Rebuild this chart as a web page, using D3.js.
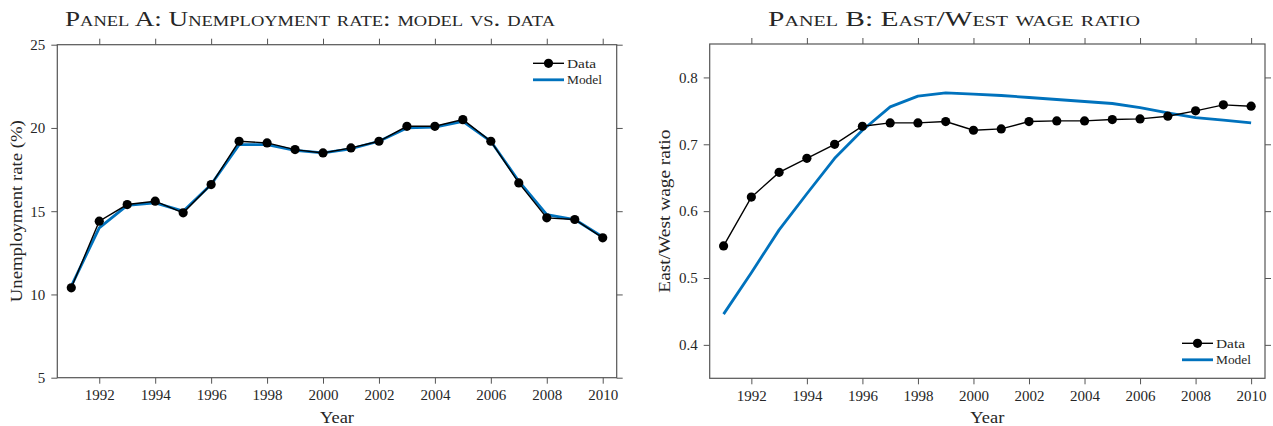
<!DOCTYPE html>
<html>
<head>
<meta charset="utf-8">
<script src="https://cdn.jsdelivr.net/npm/d3@7"></script>
<style>
body { margin: 0; background: #fff; }
svg text { font-family: "Liberation Serif", "DejaVu Serif", serif; fill: #262626; }
</style>
</head>
<body>
<svg id="chart" width="1273" height="426"></svg>
<script>
// years on the x axis (both panels)
var years = [1991, 1992, 1993, 1994, 1995, 1996, 1997, 1998, 1999, 2000,
             2001, 2002, 2003, 2004, 2005, 2006, 2007, 2008, 2009, 2010];
var yearTicks = [1992, 1994, 1996, 1998, 2000, 2002, 2004, 2006, 2008, 2010];

// Panel A: unemployment rate (%)
var unempData  = [10.4, 14.4, 15.4, 15.6, 14.9, 16.6, 19.2, 19.1, 18.7, 18.5,
                  18.8, 19.2, 20.1, 20.1, 20.5, 19.2, 16.7, 14.6, 14.5, 13.4];
var unempModel = [10.5, 14.0, 15.35, 15.5, 15.0, 16.6, 19.0, 19.0, 18.65, 18.5,
                  18.75, 19.2, 20.0, 20.05, 20.4, 19.2, 16.8, 14.8, 14.5, 13.45];
var unempTicks = [5, 10, 15, 20, 25];

// Panel B: East/West wage ratio
var wageData  = [0.548, 0.621, 0.658, 0.679, 0.700, 0.727, 0.732, 0.732, 0.734, 0.721,
                 0.723, 0.734, 0.735, 0.735, 0.737, 0.738, 0.742, 0.750, 0.759, 0.757];
var wageModel = [0.446, 0.508, 0.572, 0.626, 0.679, 0.721, 0.756, 0.772, 0.777, 0.775,
                 0.773, 0.770, 0.767, 0.764, 0.761, 0.755, 0.747, 0.740, 0.736, 0.732];
var wageTicks = [0.4, 0.5, 0.6, 0.7, 0.8];

var blue = '#0072BD';
var svg = d3.select('#chart');

function drawPanel(p) {
  var x = d3.scaleLinear().domain([1990.5, 2010.5]).range([p.left, p.right]);
  var y = d3.scaleLinear().domain(p.yDomain).range([p.bottom, p.top]);
  var g = svg.append('g');

  // outward ticks on all four sides
  var axes = [
    [d3.axisBottom(x).tickValues(yearTicks).tickFormat(d3.format('d')), 0, p.bottom, true],
    [d3.axisTop(x).tickValues(yearTicks), 0, p.top, false],
    [d3.axisLeft(y).tickValues(p.yTicks).tickFormat(p.yFormat), p.left, 0, true],
    [d3.axisRight(y).tickValues(p.yTicks), p.right, 0, false]
  ];
  axes.forEach(function(a){
    var ax = g.append('g').attr('transform', 'translate(' + a[1] + ',' + a[2] + ')')
      .call(a[0].tickSize(6).tickSizeOuter(0).tickPadding(6));
    ax.select('.domain').remove();
    ax.selectAll('line').attr('stroke', '#555');
    ax.selectAll('text').attr('font-size', 15).style('font-family', null);
    if (!a[3]) ax.selectAll('text').remove();
  });
  g.append('rect')
    .attr('x', p.left).attr('y', p.top)
    .attr('width', p.right - p.left).attr('height', p.bottom - p.top)
    .attr('fill', 'none').attr('stroke', '#555').attr('stroke-width', 1.2);

  var line = function(vals){
    return d3.line().x(function(d, i){ return x(years[i]); }).y(function(d){ return y(d); })(vals);
  };
  g.append('path').attr('d', line(p.model)).attr('fill', 'none')
    .attr('stroke', blue).attr('stroke-width', 2.8).attr('stroke-linejoin', 'round');
  g.append('path').attr('d', line(p.data)).attr('fill', 'none')
    .attr('stroke', '#000').attr('stroke-width', 1.4);
  g.selectAll('circle.pt').data(p.data).enter().append('circle').attr('class', 'pt')
    .attr('cx', function(d, i){ return x(years[i]); })
    .attr('cy', function(d){ return y(d); })
    .attr('r', 4.6).attr('fill', '#000');

  // titles and axis labels (wider Computer Modern look via textLength)
  g.append('text').attr('x', p.titleX).attr('y', 26).attr('text-anchor', 'middle')
    .attr('font-size', 22).style('font-variant', 'small-caps')
    .attr('textLength', p.titleW).attr('lengthAdjust', 'spacingAndGlyphs').text(p.title);
  g.append('text').attr('x', (p.left + p.right) / 2).attr('y', 423).attr('text-anchor', 'middle')
    .attr('font-size', 17).attr('textLength', 34).attr('lengthAdjust', 'spacingAndGlyphs').text('Year');
  g.append('text').attr('transform', 'translate(' + p.yLabelX + ',' + (p.top + p.bottom) / 2 + ') rotate(-90)')
    .attr('text-anchor', 'middle').attr('font-size', 17)
    .attr('textLength', p.yLabelW).attr('lengthAdjust', 'spacingAndGlyphs').text(p.yLabel);

  // legend
  var items = [['Data', true, 29], ['Model', false, 35]];
  items.forEach(function(it, k){
    var ly = p.legendY + k * 16.5;
    if (it[1]) {
      g.append('line').attr('x1', p.legendX).attr('x2', p.legendX + 31).attr('y1', ly).attr('y2', ly)
        .attr('stroke', '#000').attr('stroke-width', 1.4);
      g.append('circle').attr('cx', p.legendX + 15.5).attr('cy', ly).attr('r', 4.6).attr('fill', '#000');
    } else {
      g.append('line').attr('x1', p.legendX).attr('x2', p.legendX + 31).attr('y1', ly).attr('y2', ly)
        .attr('stroke', blue).attr('stroke-width', 2.8);
    }
    g.append('text').attr('x', p.legendX + 34).attr('y', ly).attr('dy', '0.32em')
      .attr('font-size', 13.5).attr('textLength', it[2]).attr('lengthAdjust', 'spacingAndGlyphs')
      .text(it[0]);
  });
}

drawPanel({
  left: 57.3, right: 616.7, top: 44.7, bottom: 377.7,
  yDomain: [5, 25], yTicks: unempTicks, yFormat: d3.format('d'),
  data: unempData, model: unempModel,
  title: 'Panel A: Unemployment rate: model vs. data', titleX: 310, titleW: 490,
  yLabel: 'Unemployment rate (%)', yLabelX: 22, yLabelW: 182,
  legendX: 533, legendY: 63.3
});

drawPanel({
  left: 709.7, right: 1265, top: 44, bottom: 378.3,
  yDomain: [0.35, 0.85], yTicks: wageTicks, yFormat: d3.format('.1f'),
  data: wageData, model: wageModel,
  title: 'Panel B: East/West wage ratio', titleX: 954, titleW: 372,
  yLabel: 'East/West wage ratio', yLabelX: 670, yLabelW: 163,
  legendX: 1182, legendY: 343.3
});
</script>
</body>
</html>
